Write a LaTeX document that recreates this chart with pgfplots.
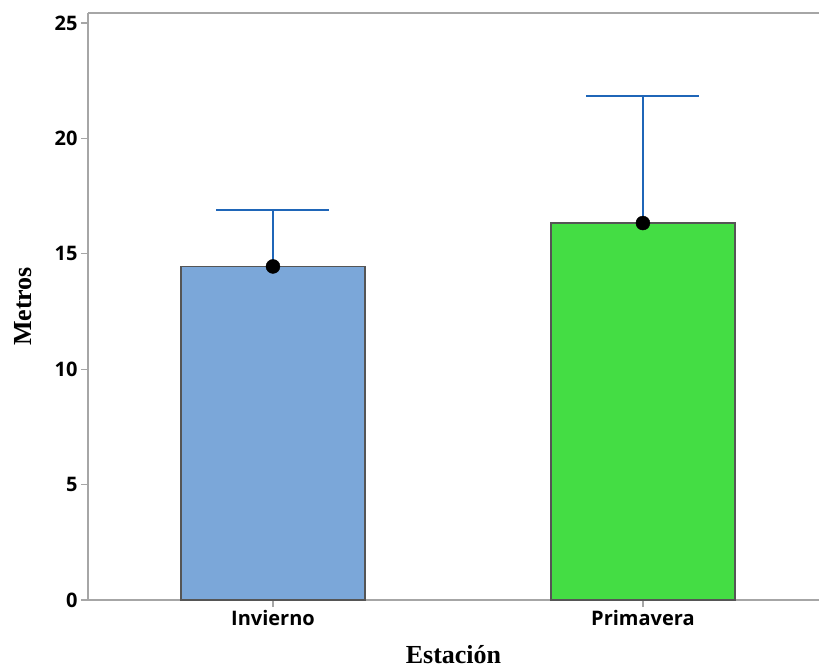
\documentclass[border=0pt]{standalone}
\usepackage{fontspec}
\setmainfont{Liberation Serif}
\newfontfamily\tickfont{Open Sans}
\usepackage{pgfplots}
\pgfplotsset{compat=1.18}
\definecolor{axgray}{HTML}{A6A6A6}
\definecolor{barblue}{HTML}{7BA7D9}
\definecolor{bargreen}{HTML}{44DD44}
\definecolor{barline}{HTML}{555555}
\definecolor{errblue}{HTML}{1F66B8}
\begin{document}
\begin{tikzpicture}[x=1pt,y=1pt]
\begin{axis}[
  at={(88pt,69pt)}, anchor=south west,
  scale only axis, width=731pt, height=587pt,
  xmin=-0.5, xmax=1.476, ymin=0, ymax=25.43,
  axis x line=box, axis y line=left,
  axis line style={-, draw=axgray, line width=1.4pt},
  xtick={0,1}, xticklabels={Invierno,Primavera},
  ytick={0,5,10,15,20,25},
  xtick pos=bottom, ytick pos=left,
  tick align=outside, major tick length=7pt,
  tick style={draw=axgray, line width=1.2pt},
  ticklabel style={font=\tickfont\bfseries\fontsize{20}{24}\selectfont},
  /pgf/number format/assume math mode=true,
  xlabel={Estación}, ylabel={Metros},
  label style={font=\bfseries\fontsize{26}{30}\selectfont},
  xlabel style={at={(axis description cs:0.5,-0.109)}, anchor=base},
  ylabel style={at={(axis description cs:-0.089,0.5)}, anchor=center},
  clip=false,
]
\addplot[ybar, bar width=0.497, bar shift=0pt, fill=barblue, draw=barline, line width=1.5pt,
  error bars/.cd, y dir=plus, y explicit,
  error bar style={errblue, line width=1.5pt},
  error mark options={errblue, line width=1.5pt, mark size=56.5pt, rotate=90}]
  coordinates {(0,14.45) +- (0,2.45)};
\addplot[ybar, bar width=0.497, bar shift=0pt, fill=bargreen, draw=barline, line width=1.5pt,
  error bars/.cd, y dir=plus, y explicit,
  error bar style={errblue, line width=1.5pt},
  error mark options={errblue, line width=1.5pt, mark size=56.5pt, rotate=90}]
  coordinates {(1,16.33) +- (0,5.5)};
\addplot[only marks, mark=*, mark size=7pt, black] coordinates {(0,14.45) (1,16.33)};
\end{axis}
\pgfresetboundingbox
\path[use as bounding box] (0,0) rectangle (819,669);
\end{tikzpicture}
\end{document}
